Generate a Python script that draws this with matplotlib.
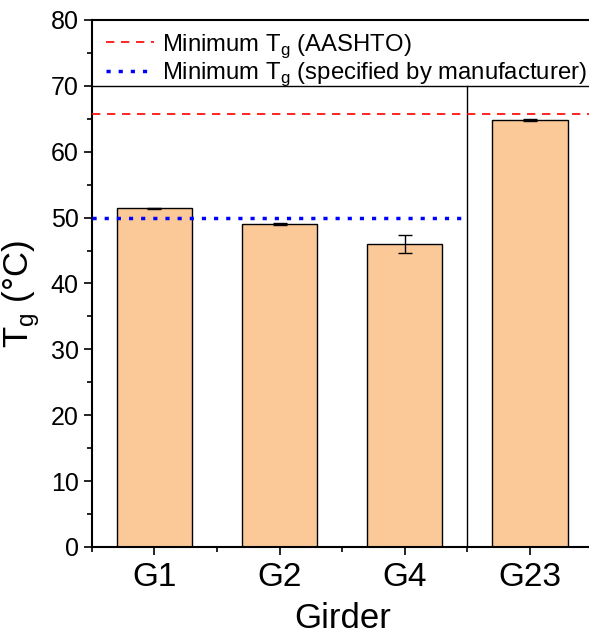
import matplotlib.pyplot as plt
from matplotlib.ticker import MultipleLocator

plt.rcParams['font.family'] = ['Liberation Sans', 'DejaVu Sans']

# datos
girders = ['G1', 'G2', 'G4', 'G23']
tg_mean = [51.4, 49.0, 46.0, 64.8]
tg_err = [0.1, 0.15, 1.4, 0.1]
tg_aashto = 65.7
tg_manufacturer = 50.0

fig = plt.figure(figsize=(5.89, 6.35), dpi=100)
ax = fig.add_axes([0.156, 0.1386, 0.85, 0.83])

x = list(range(1, len(girders) + 1))
ax.bar(x, tg_mean, width=0.6, color='#FBC898', edgecolor='black', linewidth=1,
       yerr=tg_err, capsize=5, error_kw={'elinewidth': 1, 'capthick': 1}, zorder=2)

# lineas de referencia
ax.axhline(tg_aashto, color='red', linestyle=(0, (5, 4)), linewidth=1.2,
           label='Minimum T$_\\mathregular{g}$ (AASHTO)', zorder=3)
ax.plot([0.5, 3.5], [tg_manufacturer, tg_manufacturer], color='blue',
        linestyle=(0, (1.2, 2.3)), linewidth=2.5,
        label='Minimum T$_\\mathregular{g}$ (specified by manufacturer)', zorder=3)

# separadores
ax.axhline(70, color='black', linewidth=1, zorder=1)
ax.plot([3.5, 3.5], [0, 70], color='black', linewidth=1, zorder=1)

ax.set_xlim(0.5, 4.5)
ax.set_ylim(0, 80)
ax.set_xticks(x)
ax.set_xticklabels(girders)
ax.set_xticks([0.5, 1.5, 2.5, 3.5], minor=True)
ax.yaxis.set_major_locator(MultipleLocator(10))
ax.yaxis.set_minor_locator(MultipleLocator(5))
ax.tick_params(axis='both', which='major', labelsize=18, length=6, width=1.2)
ax.tick_params(axis='both', which='minor', length=3.5, width=1.2)
ax.tick_params(axis='x', labelsize=24, pad=5)
for s in ax.spines.values():
    s.set_linewidth(1.5)

ax.set_xlabel('Girder', fontsize=25, labelpad=6)
ax.set_ylabel('T$_\\mathregular{g}$ (°C)', fontsize=25)
ax.yaxis.set_label_coords(-0.1, 0.48)

ax.legend(loc='upper left', frameon=False, fontsize=17.2, handlelength=2.0,
          handletextpad=0.35, borderaxespad=0.1, labelspacing=0.05,
          bbox_to_anchor=(0.005, 1.0))

fig.savefig('out.png', dpi=100)
